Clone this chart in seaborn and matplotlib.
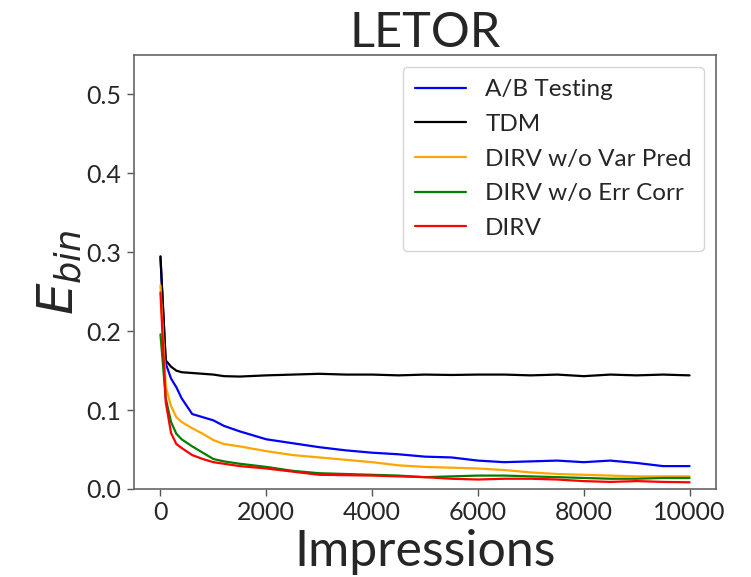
import matplotlib
matplotlib.use("Agg")
import matplotlib.pyplot as plt
import seaborn as sns
import pandas as pd

impressions = [0, 100, 200, 300, 400, 600, 800, 1000, 1200, 1500, 2000, 2500, 3000, 3500,
               4000, 4500, 5000, 5500, 6000, 6500, 7000, 7500, 8000, 8500, 9000, 9500, 10000]

ab_testing = [0.295, 0.159, 0.140, 0.129, 0.115, 0.095, 0.091, 0.087, 0.080, 0.073, 0.063, 0.058,
              0.053, 0.049, 0.046, 0.044, 0.041, 0.040, 0.036, 0.034, 0.035, 0.036, 0.034, 0.036,
              0.033, 0.029, 0.029]
tdm = [0.294, 0.163, 0.155, 0.150, 0.148, 0.147, 0.146, 0.145, 0.143, 0.1425, 0.144, 0.145,
       0.146, 0.145, 0.145, 0.144, 0.145, 0.1445, 0.145, 0.145, 0.144, 0.145, 0.143, 0.145,
       0.144, 0.145, 0.144]
dirv_wo_var = [0.258, 0.130, 0.105, 0.091, 0.085, 0.077, 0.070, 0.062, 0.057, 0.054, 0.048, 0.043,
               0.040, 0.037, 0.034, 0.030, 0.028, 0.027, 0.026, 0.024, 0.021, 0.019, 0.018, 0.017,
               0.016, 0.016, 0.016]
dirv_wo_err = [0.196, 0.115, 0.085, 0.070, 0.063, 0.054, 0.046, 0.038, 0.035, 0.032, 0.028, 0.023,
               0.020, 0.019, 0.018, 0.017, 0.015, 0.016, 0.017, 0.017, 0.016, 0.015, 0.014, 0.013,
               0.013, 0.014, 0.014]
dirv = [0.249, 0.110, 0.071, 0.057, 0.052, 0.043, 0.038, 0.034, 0.032, 0.029, 0.026, 0.022,
        0.018, 0.0175, 0.017, 0.016, 0.015, 0.013, 0.012, 0.013, 0.013, 0.012, 0.010, 0.009,
        0.010, 0.009, 0.0085]

methods = ["A/B Testing", "TDM", "DIRV w/o Var Pred", "DIRV w/o Err Corr", "DIRV"]
series = [ab_testing, tdm, dirv_wo_var, dirv_wo_err, dirv]
colors = ["blue", "black", "orange", "green", "red"]

rows = []
for m, vals in zip(methods, series):
    for x, v in zip(impressions, vals):
        rows.append({"Impressions": x, "E": v, "Method": m})
df = pd.DataFrame(rows)

sns.set_theme(style="ticks")
plt.rcParams["font.family"] = ["Lato", "DejaVu Sans"]
plt.rcParams["mathtext.fontset"] = "dejavusans"

fig = plt.figure(figsize=(7.51, 5.77), dpi=100)
ax = fig.add_axes([134 / 751, 1 - 489 / 577, (716 - 134) / 751, (489 - 55) / 577])

sns.lineplot(data=df, x="Impressions", y="E", hue="Method", hue_order=methods,
             palette=dict(zip(methods, colors)), linewidth=1.6, ax=ax)

ax.set_xlim(-500, 10500)
ax.set_ylim(0, 0.55)
ax.set_xticks([0, 2000, 4000, 6000, 8000, 10000])
ax.set_yticks([0.0, 0.1, 0.2, 0.3, 0.4, 0.5])
ax.set_yticklabels(["0.0", "0.1", "0.2", "0.3", "0.4", "0.5"])
ax.tick_params(labelsize=18, length=5, width=1, color="#555555", pad=4)
for s in ax.spines.values():
    s.set_color("#666666")
    s.set_linewidth(1.2)

ax.set_title("LETOR", fontsize=35, pad=6)
ax.set_xlabel("Impressions", fontsize=36, labelpad=3)
ax.set_ylabel("$E_{bin}$", fontsize=36, labelpad=2)

leg = ax.legend(loc="upper right", fontsize=17.5, frameon=True, fancybox=True,
                handlelength=2.1, handletextpad=0.8, borderpad=0.5, labelspacing=0.56)
leg.get_frame().set_edgecolor("#cccccc")

fig.savefig("out.png", dpi=100)
